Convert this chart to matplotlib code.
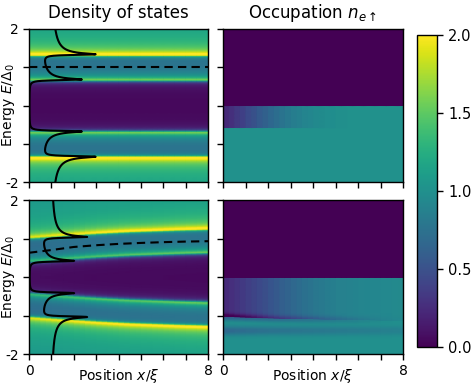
import numpy as np
import matplotlib
matplotlib.use("Agg")
import matplotlib.pyplot as plt

# ---------------- data ----------------
positions = [0.0, 0.5, 1.0, 1.5, 2.0, 2.5, 3.0, 3.5, 4.0, 4.5, 5.0, 5.5, 6.0, 6.5, 7.0, 7.5, 8.0]

# top row: homogeneous gap
gap_top = [1.0] * 17
exchange_top = 0.33
# bottom row: gap suppressed near the interface
gap_bottom = [0.72, 0.74, 0.76, 0.78, 0.80, 0.82, 0.84, 0.855, 0.87,
              0.885, 0.895, 0.905, 0.915, 0.925, 0.935, 0.94, 0.95]
exchange_bottom = 0.31
broadening_curve = 0.015
broadening_map = 0.036

# dashed lines
dashed_x = [0, 1, 2, 3, 4, 5, 6, 7, 8]
dashed_top = [1.0, 1.0, 1.0, 1.0, 1.0, 1.0, 1.0, 1.0, 1.0]
dashed_bottom = [0.63, 0.70, 0.78, 0.825, 0.86, 0.885, 0.905, 0.92, 0.93]

# occupation, top row: depletion between E=0 and E=dip_edge_top
dip_edge_top = -0.58
dip_top = [0.78, 0.68, 0.57, 0.45, 0.34, 0.24, 0.16, 0.10, 0.06,
           0.03, 0.015, 0.0, 0.0, 0.0, 0.0, 0.0, 0.0]
# occupation, bottom row
dip_bottom = [0.76, 0.70, 0.63, 0.56, 0.48, 0.40, 0.33, 0.27, 0.21,
              0.17, 0.13, 0.11, 0.09, 0.08, 0.07, 0.06, 0.05]
band1_energy = [-1.02, -1.03, -1.04, -1.05, -1.06, -1.07, -1.07, -1.08, -1.08,
                -1.09, -1.09, -1.10, -1.10, -1.10, -1.11, -1.11, -1.11]
band1_depth = [0.40, 0.37, 0.35, 0.32, 0.30, 0.28, 0.26, 0.24, 0.22,
               0.19, 0.16, 0.13, 0.10, 0.07, 0.04, 0.02, 0.01]
band2_energy = -1.38
band2_depth = [0.32, 0.30, 0.28, 0.26, 0.24, 0.23, 0.22, 0.21, 0.20,
               0.19, 0.18, 0.17, 0.16, 0.15, 0.14, 0.13, 0.12]

energies = np.linspace(-2, 2, 801)


def total_dos(gap, h, g):
    gap = np.asarray(gap)[None, :]
    out = 0.0
    for s in (1.0, -1.0):
        z = energies[:, None] + s * h + 1j * g
        out = out + np.real(z / (np.sqrt(z - gap) * np.sqrt(z + gap)))
    return 0.5 * out


map_top = total_dos(gap_top, exchange_top, broadening_map)
map_bottom = total_dos(gap_bottom, exchange_bottom, broadening_map)
curve_top = total_dos(gap_top[:1], exchange_top, broadening_curve)[:, 0]
curve_bottom = total_dos(gap_bottom[:1], exchange_bottom, broadening_curve)[:, 0]

E = energies[:, None]
occ_top = np.where(E < 0, 1.0, 0.0) - np.where((E < 0) & (E > dip_edge_top),
                                               np.asarray(dip_top)[None, :], 0.0)

b1e = np.asarray(band1_energy)[None, :]
depl = np.where((E < 0) & (E > b1e), np.asarray(dip_bottom)[None, :], 0.0)
depl = depl + np.asarray(band1_depth)[None, :] * np.exp(-0.5 * ((E - b1e) / 0.06) ** 2)
depl = depl + np.asarray(band2_depth)[None, :] * np.exp(-0.5 * ((E - band2_energy) / 0.08) ** 2)
occ_bottom = np.clip(np.where(E < 0, 1.0 - depl, 0.0), 0, 1)

# ---------------- figure ----------------
fig = plt.figure(figsize=(4.74, 3.84), dpi=100)
W, H = 474.0, 384.0


def add_ax(x0, y0, x1, y1):
    return fig.add_axes([x0 / W, 1 - y1 / H, (x1 - x0) / W, (y1 - y0) / H])


ax_tl = add_ax(29, 29, 208, 182)
ax_tr = add_ax(223, 29, 403, 182)
ax_bl = add_ax(29, 200, 208, 354)
ax_br = add_ax(223, 200, 403, 354)
cax = add_ax(417, 35, 437, 347)

kw = dict(cmap="viridis", vmin=0, vmax=2, shading="gouraud", rasterized=True)
ax_tl.pcolormesh(positions, energies, map_top, **kw)
ax_bl.pcolormesh(positions, energies, map_bottom, **kw)
ax_tr.pcolormesh(positions, energies, occ_top, **kw)
mesh = ax_br.pcolormesh(positions, energies, occ_bottom, **kw)

ax_tl.plot(curve_top, energies, color="black", lw=1.5)
ax_bl.plot(curve_bottom, energies, color="black", lw=1.5)
ax_tl.plot(dashed_x, dashed_top, color="black", lw=1.5, ls=(0, (4, 2.5)))
ax_bl.plot(dashed_x, dashed_bottom, color="black", lw=1.5, ls=(0, (4, 2.5)))

for ax in (ax_tl, ax_tr, ax_bl, ax_br):
    ax.set_xlim(0, 8)
    ax.set_ylim(-2, 2)
    ax.set_xticks(range(9))
    ax.set_yticks([-2, -1, 0, 1, 2])
    ax.tick_params(direction="out", length=4.5, width=1.0, labelsize=10, pad=3)
    for sp in ax.spines.values():
        sp.set_linewidth(1.0)
    if ax in (ax_bl, ax_br):
        ax.set_xticklabels(["0", "", "", "", "", "", "", "", "8"])
        ax.set_xlabel(r"Position $x/\xi$", fontsize=10)
        ax.xaxis.set_label_coords(0.5, -0.085)
    else:
        ax.set_xticklabels([])
    if ax in (ax_tl, ax_bl):
        ax.set_yticklabels(["-2", "", "", "", "2"])
        ax.set_ylabel(r"Energy $E/\Delta_0$", fontsize=10)
        ax.yaxis.set_label_coords(-0.065, 0.5)
    else:
        ax.set_yticklabels([])

ax_tl.set_title("Density of states", fontsize=12, pad=8)
ax_tr.set_title(r"Occupation $n_{e\uparrow}$", fontsize=12, pad=8)

cb = fig.colorbar(mesh, cax=cax, ticks=[0, 0.5, 1.0, 1.5, 2.0], format="%.1f")
cb.ax.tick_params(direction="out", length=4.5, width=1.0, labelsize=10.5)
cb.outline.set_linewidth(1.0)

fig.savefig("out.png", dpi=100)
